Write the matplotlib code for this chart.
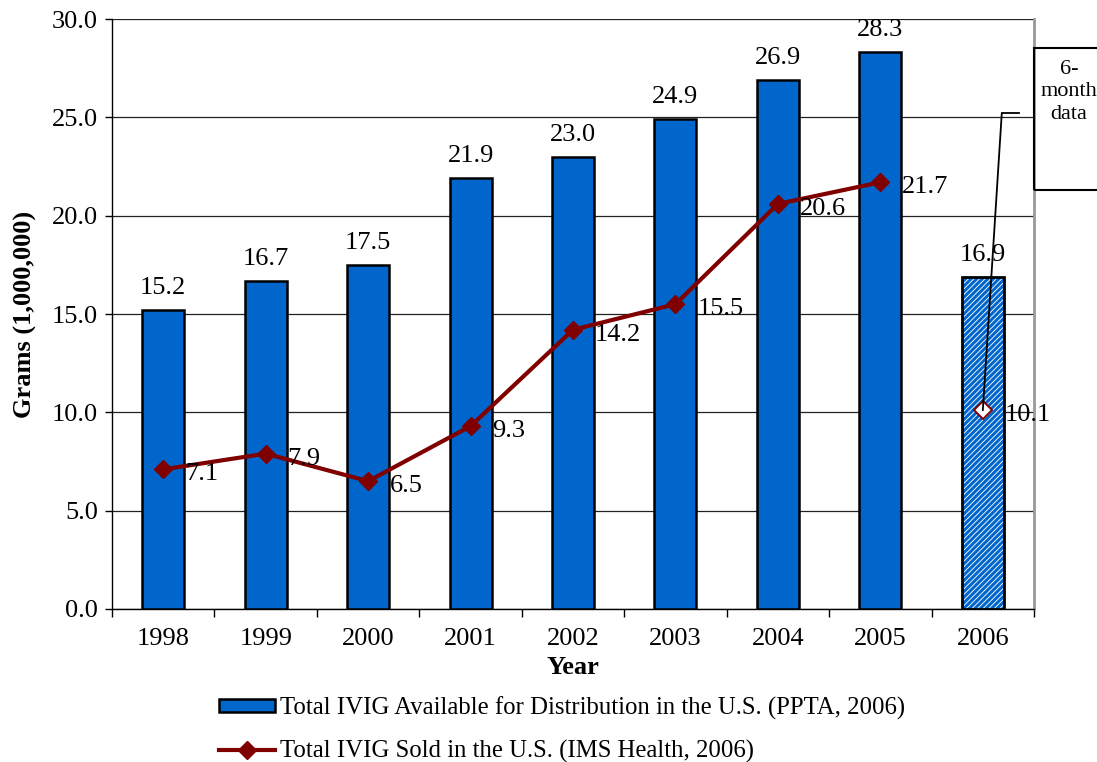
import matplotlib
matplotlib.use("Agg")
import matplotlib.pyplot as plt
import numpy as np
from matplotlib.lines import Line2D
from matplotlib.patches import Patch

plt.rcParams['font.family'] = ['Liberation Serif', 'DejaVu Serif']
plt.rcParams['hatch.linewidth'] = 2.2

years = ['1998', '1999', '2000', '2001', '2002', '2003', '2004', '2005', '2006']
available = [15.2, 16.7, 17.5, 21.9, 23.0, 24.9, 26.9, 28.3, 16.9]
sold = [7.1, 7.9, 6.5, 9.3, 14.2, 15.5, 20.6, 21.7, 10.1]

bar_color = '#0066CC'
line_color = '#800000'
FS = 19

fig = plt.figure(figsize=(10.97, 7.62), dpi=100)
ax = fig.add_axes([0.1021, 0.2008, 0.8405, 0.7742])

x = np.arange(len(years))
w = 0.41
ax.bar(x[:-1], available[:-1], width=w, color=bar_color, edgecolor='black', linewidth=1.8, zorder=3)
ax.bar(x[-1], available[-1], width=w, color='white', edgecolor=bar_color, hatch='//////', linewidth=0, zorder=3)
ax.bar(x[-1], available[-1], width=w, fill=False, edgecolor='black', linewidth=2.0, zorder=4)

for xi, v in zip(x, available):
    ax.annotate(f'{v:.1f}', (xi, v), xytext=(0, 11), textcoords='offset pixels',
                ha='center', va='bottom', fontsize=FS, zorder=6)

ax.plot(x[:-1], sold[:-1], color=line_color, linewidth=3.0, marker='D', markersize=9, zorder=5)
ax.plot(x[-1], sold[-1], linestyle='none', marker='D', markersize=9, markerfacecolor='white',
        markeredgecolor=line_color, markeredgewidth=1.4, zorder=5)

for xi, v in zip(x, sold):
    ax.annotate(f'{v:.1f}', (xi, v), xytext=(22, -5), textcoords='offset pixels',
                ha='left', va='center', fontsize=FS, zorder=6)

# callout for 6-month data
ax.annotate('', xy=(x[-1], sold[-1]), xytext=(x[-1] + 0.185, 25.2),
            arrowprops=dict(arrowstyle='-', color='black', lw=1.3, shrinkA=0, shrinkB=0), zorder=6)
ax.plot([x[-1] + 0.185, x[-1] + 0.35], [25.2, 25.2], color='black', lw=1.3, zorder=6, clip_on=False)
box = plt.Rectangle((1034 / 1097, (762 - 190) / 762), 0.1, (190 - 48) / 762, transform=fig.transFigure,
                    fill=False, edgecolor='black', linewidth=1.5, clip_on=False)
fig.add_artist(box)
fig.text(1069 / 1097, (762 - 92) / 762, '6-\nmonth\ndata', ha='center', va='center',
         fontsize=16, linespacing=1.25)

ax.set_ylim(0, 30)
ax.set_xlim(-0.5, len(years) - 0.5)
ticks = np.arange(0, 30.1, 5)
ax.set_yticks(ticks)
ax.set_yticklabels([f'{t:.1f}' for t in ticks], fontsize=FS)
ax.set_xticks(x)
ax.set_xticklabels(years, fontsize=FS)
ax.set_xticks(np.arange(-0.5, len(years)), minor=True)
ax.tick_params(axis='x', which='major', length=0, pad=14)
ax.tick_params(axis='x', which='minor', length=6, width=1, direction='out')
ax.tick_params(axis='y', length=5, width=1, direction='out', pad=5)
ax.yaxis.grid(True, color='#222222', linewidth=0.9, zorder=0)
ax.set_axisbelow(True)
ax.spines['top'].set_visible(False)
ax.spines['right'].set_color('#999999')
ax.spines['right'].set_linewidth(2)
ax.spines['left'].set_linewidth(1)
ax.spines['bottom'].set_linewidth(1)

ax.set_xlabel('Year', fontsize=FS, fontweight='bold', labelpad=4)
ax.set_ylabel('Grams (1,000,000)', fontsize=FS, fontweight='bold', labelpad=11)

handles = [
    Patch(facecolor=bar_color, edgecolor='black', linewidth=1.8),
    Line2D([0], [0], color=line_color, linewidth=3.0, marker='D', markersize=9),
]
labels = ['Total IVIG Available for Distribution in the U.S. (PPTA, 2006)',
          'Total IVIG Sold in the U.S. (IMS Health, 2006)']
fig.legend(handles, labels, loc='upper left', bbox_to_anchor=(0.2, 0.086), frameon=False,
           fontsize=17.8, handlelength=2.25, handleheight=0.45, handletextpad=0.2, labelspacing=0.8,
           borderaxespad=0, borderpad=0)

fig.savefig('out.png', dpi=100)
